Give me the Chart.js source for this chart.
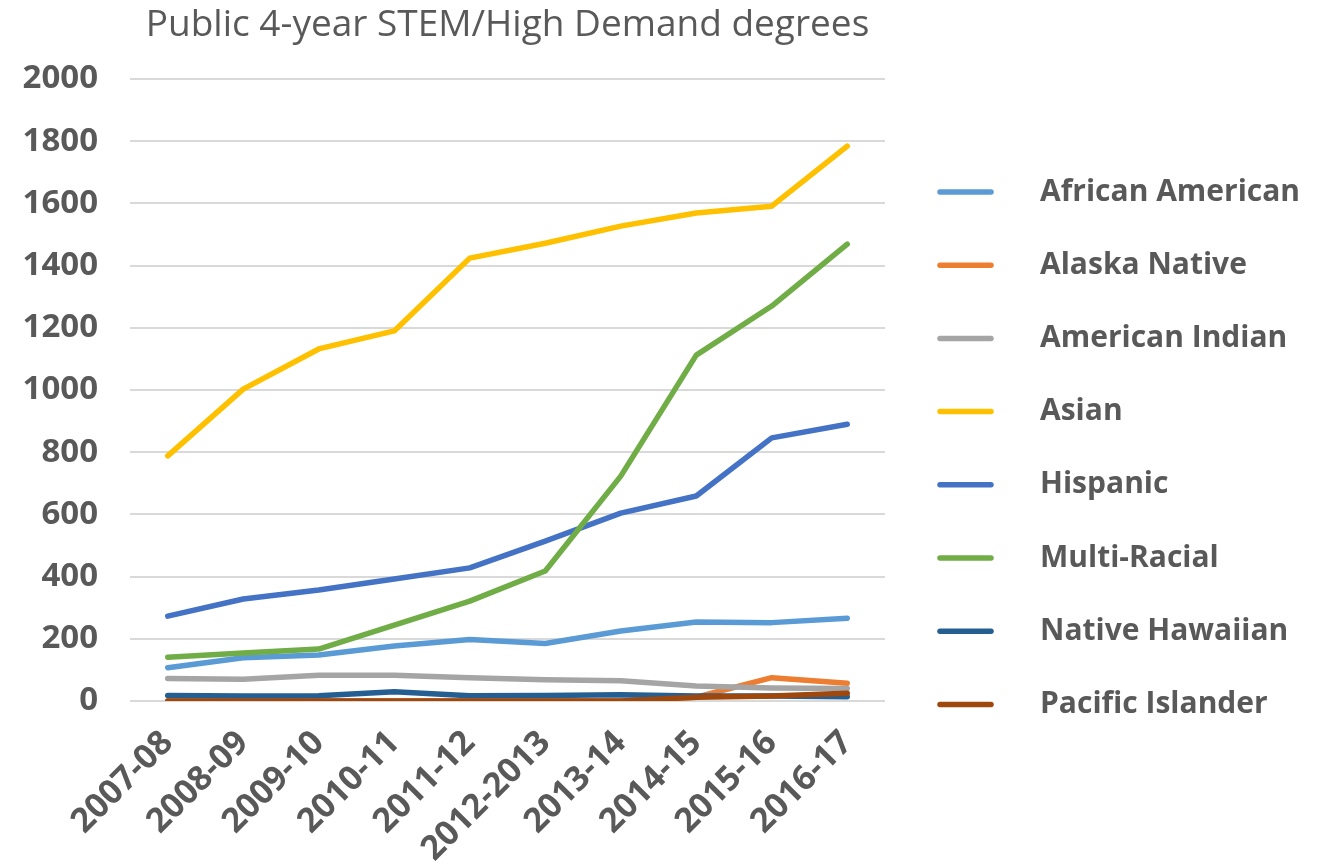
<!DOCTYPE html>
<html>
<head>
<meta charset="utf-8">
<script src="https://cdn.jsdelivr.net/npm/chart.js@4/dist/chart.umd.min.js"></script>
<style>
html,body{margin:0;padding:0;background:#fff;}
#wrap{width:1332px;height:865px;position:relative;}
</style>
</head>
<body>
<div id="wrap"><canvas id="c" width="1332" height="865"></canvas></div>
<script>
const titleText = "Public 4-year STEM/High Demand degrees";
const categories = ["2007-08","2008-09","2009-10","2010-11","2011-12","2012-2013","2013-14","2014-15","2015-16","2016-17"];
const seriesNames = ["African American","Alaska Native","American Indian","Asian","Hispanic","Multi-Racial","Native Hawaiian","Pacific Islander"];
const africanAmerican = [107,139,148,177,198,185,225,254,252,266];
const alaskaNative    = [0,0,0,0,0,0,0,12,75,57];
const americanIndian  = [72,70,83,83,75,68,65,48,42,40];
const asian           = [788,1003,1132,1190,1424,1472,1527,1569,1591,1784];
const hispanic        = [273,328,357,392,428,514,604,659,846,890];
const multiRacial     = [141,154,167,244,321,418,723,1112,1270,1469];
const nativeHawaiian  = [18,16,17,30,17,18,20,16,16,14];
const pacificIslander = [0,0,0,0,0,0,0,12,16,25];
const yTicks = [0,200,400,600,800,1000,1200,1400,1600,1800,2000];

const seriesValues = [africanAmerican,alaskaNative,americanIndian,asian,hispanic,multiRacial,nativeHawaiian,pacificIslander];
const colors = ["#5B9BD5","#ED7D31","#A5A5A5","#FFC000","#4472C4","#70AD47","#255E91","#9E480E"];
const textColor = "#595959";
const FONT = "'Open Sans'";

const datasets = seriesNames.map((n,i)=>({
  label:n,
  data:seriesValues[i],
  borderColor:colors[i],
  backgroundColor:colors[i],
  borderWidth:5.5,
  borderCapStyle:'round',
  borderJoinStyle:'round',
  pointRadius:0,
  tension:0,
  fill:false,
  order: seriesNames.length - i
}));

const legendPlugin = {
  id:'sideLegend',
  afterDraw(chart){
    const ctx = chart.ctx;
    ctx.save();
    const y0 = 192, dy = 73.2;
    chart.data.datasets.forEach((ds,i)=>{
      const y = y0 + i*dy;
      ctx.strokeStyle = ds.borderColor;
      ctx.lineWidth = 5.5;
      ctx.lineCap = 'round';
      ctx.beginPath();
      ctx.moveTo(940,y);
      ctx.lineTo(991,y);
      ctx.stroke();
      ctx.fillStyle = textColor;
      ctx.font = "bold 30px " + FONT;
      ctx.textBaseline = 'middle';
      ctx.textAlign = 'left';
      ctx.fillText(ds.label, 1040, y);
    });
    ctx.restore();
  }
};

new Chart(document.getElementById('c'), {
  type:'line',
  data:{labels:categories, datasets:datasets},
  options:{
    responsive:false,
    animation:false,
    devicePixelRatio:1,
    layout:{padding:{left:0,right:447,top:0,bottom:0}},
    plugins:{
      legend:{display:false},
      tooltip:{enabled:false},
      title:{
        display:true,
        text:titleText,
        fullSize:false,
        color:textColor,
        font:{family:FONT,size:37,weight:'normal',lineHeight:1.2},
        padding:{top:3,bottom:31.6}
      }
    },
    scales:{
      x:{
        offset:true,
        grid:{display:false,drawTicks:false},
        border:{display:false},
        ticks:{
          color:textColor,
          font:{family:FONT,size:34,weight:'bold'},
          maxRotation:45,minRotation:45,autoSkip:false,padding:22
        },
        afterFit(a){a.height=164;}
      },
      y:{
        min:0,max:2000,
        afterBuildTicks(a){a.ticks = yTicks.map(v=>({value:v}));},
        grid:{color:'#D9D9D9',lineWidth:2,drawTicks:false},
        border:{display:false},
        ticks:{color:textColor,font:{family:FONT,size:33,weight:'bold'},padding:32,
          callback:(v)=>String(v)},
        afterFit(a){a.width=130;}
      }
    }
  },
  plugins:[legendPlugin]
});
</script>
</body>
</html>
